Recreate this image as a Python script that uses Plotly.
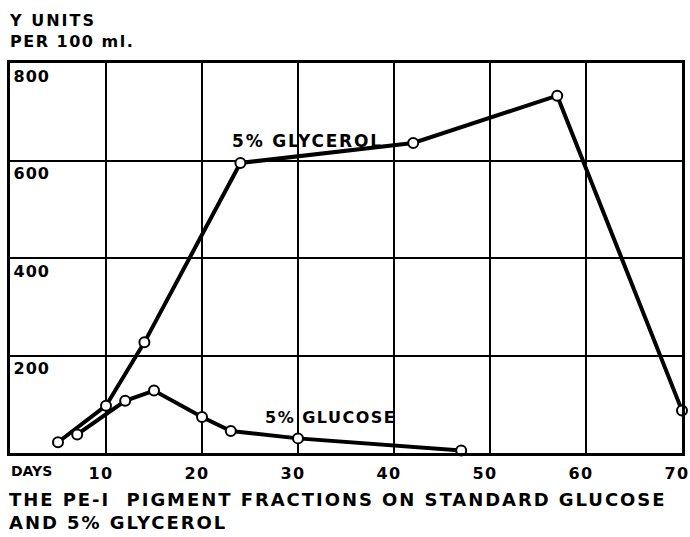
import plotly.graph_objects as go

# Data
glycerol_days = [5, 10, 14, 24, 42, 57, 70]
glycerol_vals = [22, 97, 227, 595, 636, 733, 87]
glucose_days = [7, 12, 15, 20, 23, 30, 47]
glucose_vals = [38, 107, 128, 74, 45, 30, 5]

x_ticks = [10, 20, 30, 40, 50, 60, 70]
y_ticks = [200, 400, 600, 800]

FONT = "DejaVu Sans"


def spaced(s, ls):
    return f'<span style="letter-spacing:{ls}px">{s}</span>'


fig = go.Figure()
for xs, ys, name in [(glycerol_days, glycerol_vals, "5% GLYCEROL"),
                     (glucose_days, glucose_vals, "5% GLUCOSE")]:
    fig.add_trace(go.Scatter(
        x=xs, y=ys, name=name, mode="lines+markers",
        line=dict(color="black", width=4),
        marker=dict(symbol="circle", size=10, color="white",
                    line=dict(color="black", width=2)),
        cliponaxis=False,
    ))

fig.update_layout(
    width=690, height=537,
    margin=dict(l=10, r=8, t=63, b=84, autoexpand=False),
    paper_bgcolor="white", plot_bgcolor="white",
    showlegend=False,
    font=dict(family=FONT, color="black"),
)
fig.update_xaxes(
    range=[0, 70], tickvals=x_ticks,
    ticktext=[spaced(str(v), 1.5) for v in x_ticks],
    showgrid=True, gridcolor="black", gridwidth=2,
    showline=True, linecolor="black", linewidth=2.5, mirror=True,
    zeroline=False, ticks="", ticklabelstandoff=4, ticklabelshift=-5,
    tickfont=dict(size=16, family=FONT, weight="bold", color="black"),
    automargin=False,
)
fig.update_yaxes(
    range=[0, 800], tickvals=y_ticks,
    ticktext=[spaced(str(v), 1) for v in y_ticks],
    showgrid=True, gridcolor="black", gridwidth=2,
    showline=True, linecolor="black", linewidth=2.5, mirror=True,
    zeroline=False, ticks="",
    tickfont=dict(size=16, family=FONT, weight="bold", color="black"),
    automargin=False,
    ticklabelposition="inside", ticklabelshift=13, ticklabelstandoff=4,
)

annotations = [
    dict(text=spaced("5% GLYCEROL", 1.8), x=31.0, y=640, xref="x", yref="y",
         showarrow=False, font=dict(size=17, weight="bold", color="black")),
    dict(text=spaced("5% GLUCOSE", 1.5), x=33.4, y=73, xref="x", yref="y",
         showarrow=False, font=dict(size=16, weight="bold", color="black")),
    dict(text=spaced("Y UNITS", 2) + "<br>" + spaced("PER 100 ml.", 1.5),
         x=0, y=1, xref="paper", yref="paper",
         xanchor="left", yanchor="bottom", xshift=-3, yshift=10, align="left",
         showarrow=False, font=dict(size=16, weight="bold", color="black")),
    dict(text="DAYS", x=0, y=0, xref="paper", yref="paper",
         xanchor="left", yanchor="top", xshift=-1, yshift=-8,
         showarrow=False, font=dict(size=14, weight="bold", color="black")),
    dict(text=spaced("THE PE-I  PIGMENT FRACTIONS ON STANDARD GLUCOSE", 1.95)
         + "<br>" + spaced("AND 5% GLYCEROL", 1.95),
         x=0, y=0, xref="paper", yref="paper", xanchor="left", yanchor="top",
         xshift=-3, yshift=-34, align="left", showarrow=False,
         font=dict(size=18, weight="bold", color="black")),
]
fig.update_layout(annotations=annotations)

fig.write_html(
    "out.html",
    config={"displayModeBar": False, "responsive": False},
    post_script="document.body.style.margin='0';"
                "document.body.style.overflow='hidden';",
)
